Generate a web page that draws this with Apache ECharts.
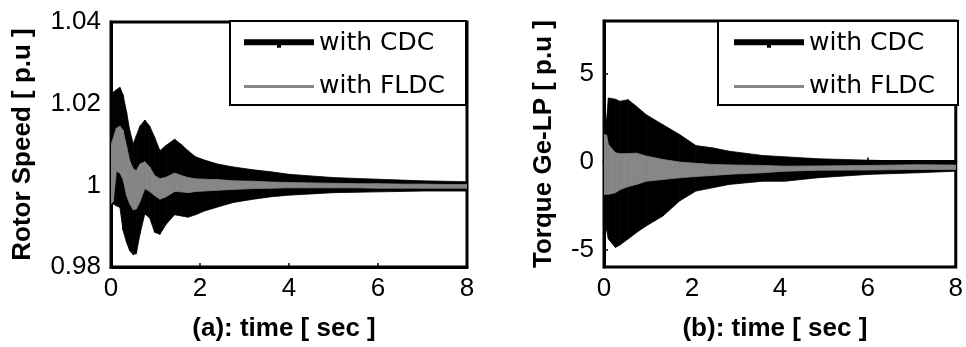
<!DOCTYPE html>
<html>
<head>
<meta charset="utf-8">
<script src="https://cdn.jsdelivr.net/npm/echarts@6/dist/echarts.min.js"></script>
<style>html,body{margin:0;padding:0;background:#fff}#c{width:966px;height:347px}</style>
</head>
<body>
<div id="c"></div>
<script>
// ---- Panel (a): Rotor speed envelopes [p.u] ----
const timeA = [0, 0.05, 0.12, 0.2, 0.27, 0.35, 0.42, 0.5, 0.57, 0.65, 0.76, 0.87, 0.98, 1.1, 1.24, 1.43, 1.58, 1.73, 1.9, 2.1, 2.4, 2.75, 3.2, 3.6, 4.0, 4.5, 5.0, 5.5, 6.0, 6.5, 7.0, 7.5, 8.0];
const cdcUpperA = [1.0225, 1.0228, 1.0234, 1.0240, 1.0222, 1.0180, 1.0135, 1.0102, 1.0122, 1.0145, 1.0160, 1.0145, 1.0118, 1.0085, 1.0098, 1.0113, 1.0100, 1.0085, 1.0070, 1.0062, 1.0052, 1.0045, 1.0038, 1.0033, 1.0027, 1.0023, 1.0019, 1.0017, 1.0015, 1.0013, 1.0011, 1.0010, 1.0009];
const cdcLowerA = [0.9955, 0.9954, 0.9950, 0.9946, 0.9890, 0.9860, 0.9840, 0.9830, 0.9833, 0.9880, 0.9930, 0.9920, 0.9885, 0.9880, 0.9905, 0.9928, 0.9925, 0.9922, 0.9928, 0.9937, 0.9947, 0.9958, 0.9966, 0.9972, 0.9976, 0.9979, 0.9982, 0.9983, 0.9984, 0.9985, 0.9986, 0.9986, 0.9986];
const fldcUpperA = [1.0100, 1.0115, 1.0140, 1.0145, 1.0135, 1.0096, 1.0060, 1.0040, 1.0036, 1.0052, 1.0058, 1.0045, 1.0024, 1.0016, 1.0020, 1.0030, 1.0024, 1.0019, 1.0016, 1.0015, 1.0014, 1.0011, 1.0010, 1.0008, 1.0007, 1.0006, 1.0005, 1.0004, 1.0004, 1.0003, 1.0003, 1.0002, 1.0002];
const fldcLowerA = [0.9955, 0.9960, 1.0035, 1.0030, 1.0015, 0.9975, 0.9955, 0.9940, 0.9942, 0.9960, 0.9992, 0.9985, 0.9975, 0.9966, 0.9972, 0.9985, 0.9984, 0.9982, 0.9985, 0.9986, 0.9988, 0.9990, 0.9992, 0.9993, 0.9994, 0.9994, 0.9994, 0.9994, 0.9993, 0.9993, 0.9993, 0.9993, 0.9993];

// ---- Panel (b): Torque Ge-LP envelopes [p.u] ----
const timeB = [0, 0.06, 0.1, 0.26, 0.36, 0.55, 0.74, 0.96, 1.34, 1.72, 2.09, 2.47, 2.85, 3.6, 4.11, 4.87, 6.0, 7.13, 8.0];
const cdcUpperB = [2.4, 2.4, 3.62, 3.55, 3.43, 3.52, 3.14, 2.67, 2.10, 1.54, 0.91, 0.78, 0.59, 0.35, 0.27, 0.16, 0.08, 0.02, -0.02];
const cdcLowerB = [-3.85, -3.9, -4.41, -4.89, -4.75, -4.4, -4.04, -3.66, -3.10, -2.24, -1.68, -1.49, -1.30, -1.12, -1.12, -0.92, -0.73, -0.64, -0.55];
const fldcUpperB = [1.54, 1.5, 0.97, 0.50, 0.45, 0.45, 0.48, 0.31, 0.12, -0.03, -0.10, -0.16, -0.19, -0.22, -0.26, -0.25, -0.22, -0.18, -0.20];
const fldcLowerB = [-1.86, -1.86, -1.86, -1.77, -1.6, -1.42, -1.30, -1.12, -1.02, -0.92, -0.85, -0.79, -0.72, -0.64, -0.55, -0.49, -0.48, -0.45, -0.45];

// ---- Axis ticks / labels ----
const xTicks = [0, 2, 4, 6, 8];
const yTicksA = [0.98, 1, 1.02, 1.04];
const yTicksB = [-5, 0, 5];
const seriesNames = ['with CDC', 'with FLDC'];
const titlesX = ['(a): time [ sec ]', '(b): time [ sec ]'];
const titlesY = ['Rotor Speed [ p.u ]', 'Torque Ge-LP [ p.u ]'];

const BLACK = '#000000', GREY = '#878787';
const tickFont = {fontFamily: 'Liberation Sans, Arial, sans-serif', fontSize: 26, color: '#000'};
const nameFont = {fontFamily: 'Liberation Sans, Arial, sans-serif', fontSize: 26, fontWeight: 'bold', color: '#000'};

// Each data item is one segment of the envelope band: [t0, up0, lo0, t1, up1, lo1]
function segments(t, up, lo) {
  const out = [];
  for (let i = 0; i < t.length - 1; i++) out.push([t[i], up[i], lo[i], t[i + 1], up[i + 1], lo[i + 1]]);
  return out;
}

function band(name, t, up, lo, color, idx, z) {
  return {
    name: name, type: 'custom', xAxisIndex: idx, yAxisIndex: idx, z: z, silent: true,
    itemStyle: {color: color},
    clip: true,
    encode: {x: [0, 3], y: [1, 2, 4, 5]},
    data: segments(t, up, lo),
    renderItem: function (params, api) {
      const p0 = api.coord([api.value(0), api.value(1)]);
      const p1 = api.coord([api.value(3), api.value(4)]);
      const p2 = api.coord([api.value(3), api.value(5)]);
      const p3 = api.coord([api.value(0), api.value(2)]);
      return {
        type: 'polygon',
        shape: {points: [p0, p1, p2, p3]},
        style: {fill: color, stroke: color, lineWidth: 0.8}
      };
    }
  };
}

function xAxis(idx) {
  return {
    type: 'value', gridIndex: idx, min: 0, max: 8, interval: 2,
    axisLine: {show: true, lineStyle: {color: '#000', width: 3}},
    axisTick: {show: true, inside: true, length: 4, lineStyle: {color: '#000', width: 1.5}, customValues: xTicks},
    axisLabel: Object.assign({margin: 9, customValues: xTicks}, tickFont),
    splitLine: {show: false},
    name: titlesX[idx], nameLocation: 'middle', nameGap: 49,
    nameTextStyle: Object.assign({padding: [0, 10, 0, 0]}, nameFont)
  };
}

const legendIcons = [
  'path://M0,0H70V6H37V8.5H33V6H0Z',
  'path://M0,0H70V3H0Z'
];
function legend(left, top, padL, padR) {
  return {
    orient: 'vertical', left: left, top: top,
    padding: [10, padR, 6, padL],
    itemWidth: 70, itemHeight: 20, itemGap: 18,
    borderColor: '#000', borderWidth: 2, backgroundColor: '#fff',
    selectedMode: false, z: 10,
    textStyle: {fontFamily: 'DejaVu Sans, sans-serif', fontSize: 25, color: '#000', lineHeight: 20},
    data: seriesNames.map((n, i) => ({name: n, icon: legendIcons[i]}))
  };
}

const option = {
  animation: false,
  backgroundColor: '#fff',
  grid: [
    {left: 111, top: 22, width: 356, height: 246, show: true, borderColor: '#000', borderWidth: 3, backgroundColor: 'transparent'},
    {left: 604, top: 21, width: 354, height: 247, show: true, borderColor: '#000', borderWidth: 3, backgroundColor: 'transparent'}
  ],
  legend: [legend(230, 21, 14, 21), legend(718, 21, 16, 23)],
  xAxis: [xAxis(0), xAxis(1)],
  yAxis: [
    {type: 'value', gridIndex: 0, min: 0.98, max: 1.04,
     axisLine: {show: true, lineStyle: {color: '#000', width: 3}},
     axisTick: {show: true, inside: true, length: 4, lineStyle: {color: '#000', width: 1.5}, customValues: yTicksA},
     axisLabel: Object.assign({margin: 10, customValues: yTicksA, formatter: v => String(+(+v).toFixed(2))}, tickFont),
     splitLine: {show: false},
     name: titlesY[0], nameLocation: 'middle', nameRotate: 90, nameGap: 75, nameTextStyle: nameFont},
    {type: 'value', gridIndex: 1, min: -6, max: 8,
     axisLine: {show: true, lineStyle: {color: '#000', width: 3}},
     axisTick: {show: true, inside: true, length: 4, lineStyle: {color: '#000', width: 1.5}, customValues: yTicksB},
     axisLabel: Object.assign({margin: 10, customValues: yTicksB, formatter: v => String(Math.round(v))}, tickFont),
     splitLine: {show: false},
     name: titlesY[1], nameLocation: 'middle', nameRotate: 90, nameGap: 47, nameTextStyle: nameFont}
  ],
  series: [
    band(seriesNames[0], timeA, cdcUpperA, cdcLowerA, BLACK, 0, 2),
    band(seriesNames[1], timeA, fldcUpperA, fldcLowerA, GREY, 0, 3),
    band(seriesNames[0], timeB, cdcUpperB, cdcLowerB, BLACK, 1, 2),
    band(seriesNames[1], timeB, fldcUpperB, fldcLowerB, GREY, 1, 3)
  ]
};

const chart = echarts.init(document.getElementById('c'), null, {renderer: 'canvas'});
chart.setOption(option);
</script>
</body>
</html>
